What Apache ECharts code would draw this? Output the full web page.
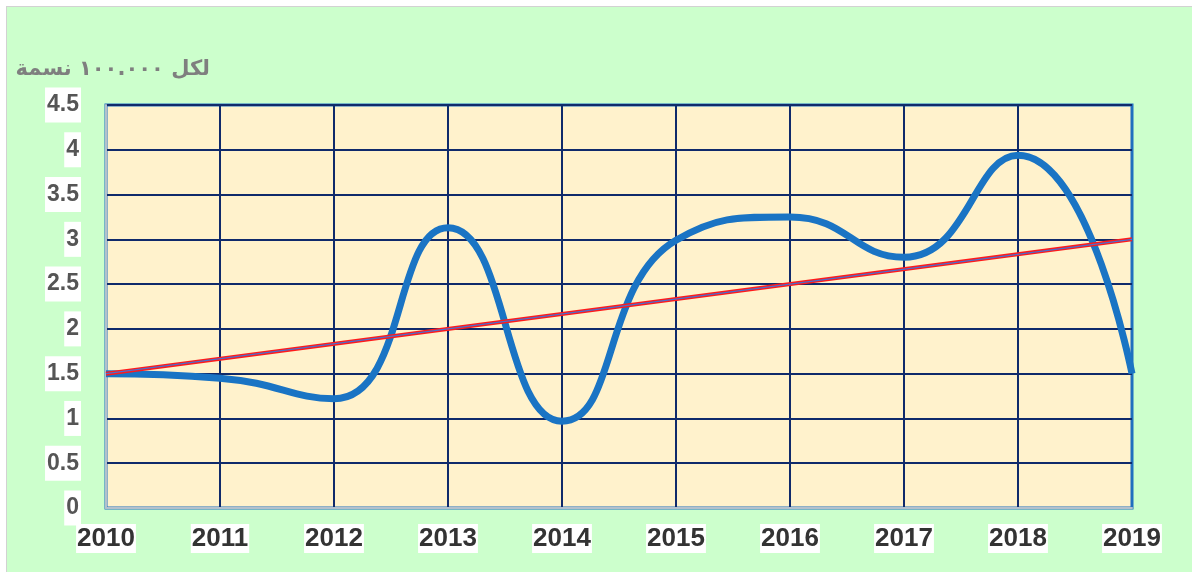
<!DOCTYPE html>
<html>
<head>
<meta charset="utf-8">
<script src="https://cdn.jsdelivr.net/npm/echarts@6/dist/echarts.min.js"></script>
<style>
  html, body { margin: 0; padding: 0; background: #ffffff; }
  #frame {
    position: absolute; left: 6px; top: 6px; width: 1185px; height: 565px;
    background: #ccffcc; border-left: 1px solid #d2d2d2; border-top: 1px solid #d2d2d2;
  }
  #chart { position: absolute; left: 0; top: 0; width: 1185px; height: 565px; }
</style>
</head>
<body>
<div id="frame"><div id="chart"></div></div>
<script>
// Years on the horizontal axis
const years = ['2010', '2011', '2012', '2013', '2014', '2015', '2016', '2017', '2018', '2019'];
// Rate per 100,000 people
const rates = [1.5, 1.45, 1.22, 3.13, 0.97, 2.99, 3.25, 2.8, 3.94, 1.5];
// Linear trend, drawn between its two end points
const trend = [1.5, null, null, null, null, null, null, null, null, 3.0];
const unitLabel = 'لكل ١٠٠.٠٠٠ نسمة';

const navy = '#0f2a6b';
const splitColors = years.map((y, i) => i === years.length - 1 ? 'transparent' : navy);

const chart = echarts.init(document.getElementById('chart'));
chart.setOption({
  animation: false,
  backgroundColor: 'transparent',
  grid: {
    left: 99, top: 98, width: 1026, height: 403,
    show: true, backgroundColor: '#fff2cc',
    borderColor: '#1f6fbf', borderWidth: 3
  },
  graphic: [{
    type: 'text', right: 982, top: 52,
    style: {
      text: unitLabel, fill: '#7f7f7f',
      font: 'bold 21px "DejaVu Sans", "Noto Sans", sans-serif',
      align: 'right'
    }
  }],
  xAxis: {
    type: 'category', data: years, boundaryGap: false,
    axisLine: { show: true, lineStyle: { color: '#b3c0cc', width: 2 } },
    axisTick: { show: false },
    axisLabel: {
      interval: 0, margin: 16, color: '#333333',
      fontFamily: '"Liberation Sans", Arial, sans-serif', fontWeight: 'bold', fontSize: 26,
      backgroundColor: '#ffffff', padding: [1, 1, 0, 1], lineHeight: 28
    },
    splitLine: { show: true, lineStyle: { color: splitColors, width: 2 } }
  },
  yAxis: {
    type: 'value', min: 0, max: 4.5, interval: 0.5,
    axisLine: { show: true, lineStyle: { color: '#b3c0cc', width: 2 } },
    axisTick: { show: false },
    axisLabel: {
      margin: 25, color: '#555555',
      fontFamily: '"Liberation Sans", Arial, sans-serif', fontWeight: 'bold', fontSize: 23,
      backgroundColor: '#ffffff', padding: [6, 2, 5, 2], lineHeight: 24
    },
    splitLine: { show: true, lineStyle: { color: navy, width: 2 } }
  },
  series: [
    {
      type: 'line', data: rates, smooth: 0.5, showSymbol: false, z: 4,
      lineStyle: { color: '#1a74c4', width: 7 }
    },
    {
      type: 'line', data: trend, connectNulls: true, showSymbol: false, z: 5,
      lineStyle: { color: '#ff1a1a', width: 4 }
    },
    {
      type: 'line', data: trend, connectNulls: true, showSymbol: false, z: 6,
      lineStyle: { color: '#4a6fd0', width: 1.3 }
    }
  ]
});
</script>
</body>
</html>
